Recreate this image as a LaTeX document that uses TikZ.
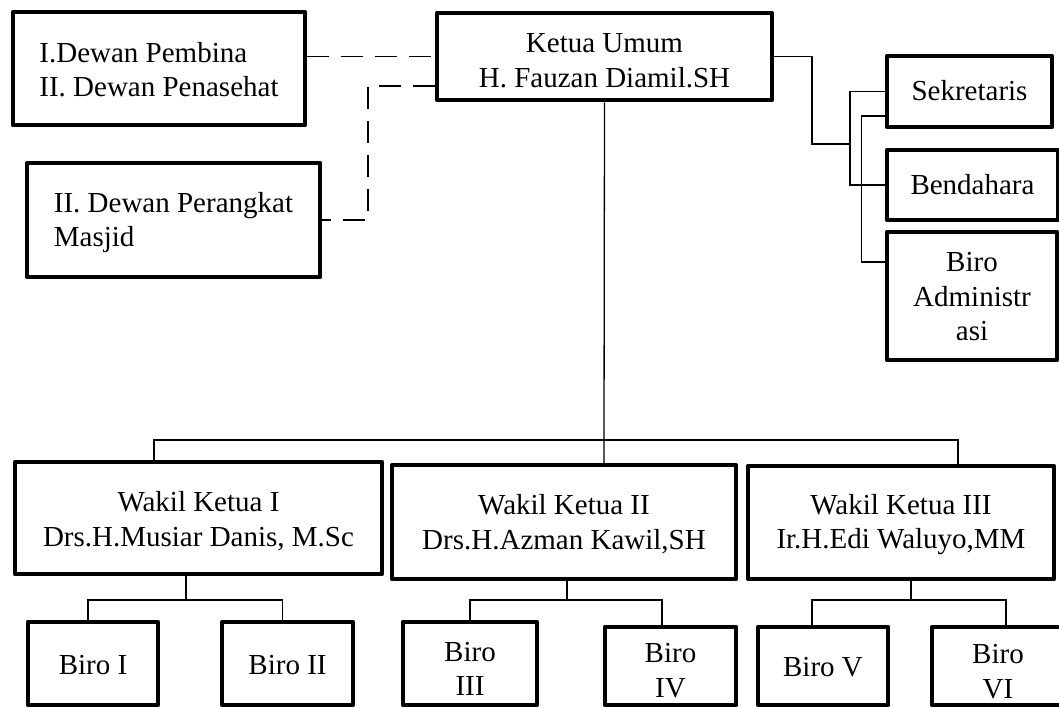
\documentclass[tikz,border=0pt]{standalone}
\usepackage{fontspec}
\setmainfont{Liberation Serif}
\usepackage{tikz}

% box text, lowered a little as in the original text boxes
\newcommand{\ctxt}[2][4pt]{\raisebox{-#1}[\height][\depth]{\begin{tabular}{@{}c@{}}#2\end{tabular}}}
\newcommand{\ltxt}[2][4pt]{\raisebox{-#1}[\height][\depth]{\begin{tabular}{@{}l@{}}#2\end{tabular}}}

\tikzset{
    box/.style={draw, line width=4.5pt, line join=round, inner sep=0pt,
        font=\fontsize{29}{34.5}\selectfont},
    conn/.style={line width=1.3pt},
    dashline/.style={line width=1.3pt, dash pattern=on 22pt off 12pt},
}

\begin{document}
\begin{tikzpicture}[x=1pt, y=-1pt]
    \useasboundingbox[fill=white] (0,0) rectangle (1059,707);

    % Top row
    \node[box, minimum width=292pt, minimum height=113pt] (dewanA) at (159,68.5) {\ltxt{I.Dewan Pembina\\II. Dewan Penasehat}};
    \node[box, minimum width=293pt, minimum height=114pt] (dewanC) at (173.5,220) {\ltxt[2.5pt]{II. Dewan Perangkat\\Masjid}};
    \node[box, minimum width=335pt, minimum height=87pt] (ketua) at (604.5,56.5) {\ctxt[6.5pt]{Ketua Umum\\H. Fauzan Diamil.SH}};

    % Right column
    \node[box, minimum width=165pt, minimum height=71pt] (sekr) at (969.5,91.5) {\ctxt[2pt]{Sekretaris}};
    \node[box, minimum width=171pt, minimum height=70pt] (benda) at (972.5,185) {\ctxt[3pt]{Bendahara}};
    \node[box, minimum width=170pt, minimum height=128pt] (biroadm) at (972,296) {\ctxt[3.5pt]{Biro\\Administr\\asi}};

    % Wakil ketua
    \node[box, minimum width=367pt, minimum height=112pt] (wk1) at (198.5,518) {\ctxt{Wakil Ketua I\\Drs.H.Musiar Danis, M.Sc}};
    \node[box, minimum width=344pt, minimum height=114pt] (wk2) at (564,522) {\ctxt[3pt]{Wakil Ketua II\\Drs.H.Azman Kawil,SH}};
    \node[box, minimum width=306pt, minimum height=113pt] (wk3) at (901,522.5) {\ctxt[2pt]{Wakil Ketua III\\Ir.H.Edi Waluyo,MM}};

    % Biro
    \node[box, minimum width=130pt, minimum height=83pt] (biro1) at (93,663.5) {\ctxt{Biro I}};
    \node[box, minimum width=131pt, minimum height=83pt] (biro2) at (287.5,663.5) {\ctxt{Biro II}};
    \node[box, minimum width=134pt, minimum height=83pt] (biro3) at (470,663.5) {\ctxt[8pt]{Biro\\III}};
    \node[box, minimum width=131pt, minimum height=78pt] (biro4) at (670.5,666) {\ctxt[7pt]{Biro\\IV}};
    \node[box, minimum width=130pt, minimum height=78pt] (biro5) at (823,666) {\ctxt{Biro V}};
    \node[box, minimum width=132pt, minimum height=78pt] (biro6) at (998,666) {\ctxt[8pt]{Biro\\VI}};

    % Dashed links to the councils
    \draw[dashline] (ketua.west -| dewanA.east) -- (ketua.west);
    \draw[dashline] ([yshift=-29.5pt]ketua.west) -| (368,220) -- (dewanC.east);

    % Secretariat
    \coordinate (rbus) at (850,144);
    \draw[conn] (ketua.east) -| (812,144) -- (rbus);
    \draw[conn] (sekr.west) -| (rbus) |- (benda.west);
    \draw[conn] ([yshift=-24.5pt]sekr.west) -- ++(-23,0) |- ([yshift=34pt]biroadm.west);

    % Main bus
    \coordinate (b1) at (154,440);
    \coordinate (b2) at (604,440);
    \coordinate (b3) at (958,440);
    \draw[conn] (ketua.south) -- (b2) -- (b2 |- wk2.north);
    \draw[conn] (b1 |- wk1.north) -- (b1) -- (b3) -- (b3 |- wk3.north);

    % Sub buses
    \coordinate (s1) at (186,600);
    \coordinate (s2) at (567,600);
    \coordinate (s3) at (911,600);
    \draw[conn] (s1 |- wk1.south) -- (s1);
    \draw[conn] ([xshift=-5pt]biro1.north) |- (s1) -| ([xshift=-5pt]biro2.north);
    \draw[conn] (s2 |- wk2.south) -- (s2);
    \draw[conn] (biro3.north) |- (s2) -| ([xshift=-8.5pt]biro4.north);
    \draw[conn] (s3 |- wk3.south) -- (s3);
    \draw[conn] ([xshift=-11pt]biro5.north) |- (s3) -| ([xshift=8pt]biro6.north);
\end{tikzpicture}
\end{document}
